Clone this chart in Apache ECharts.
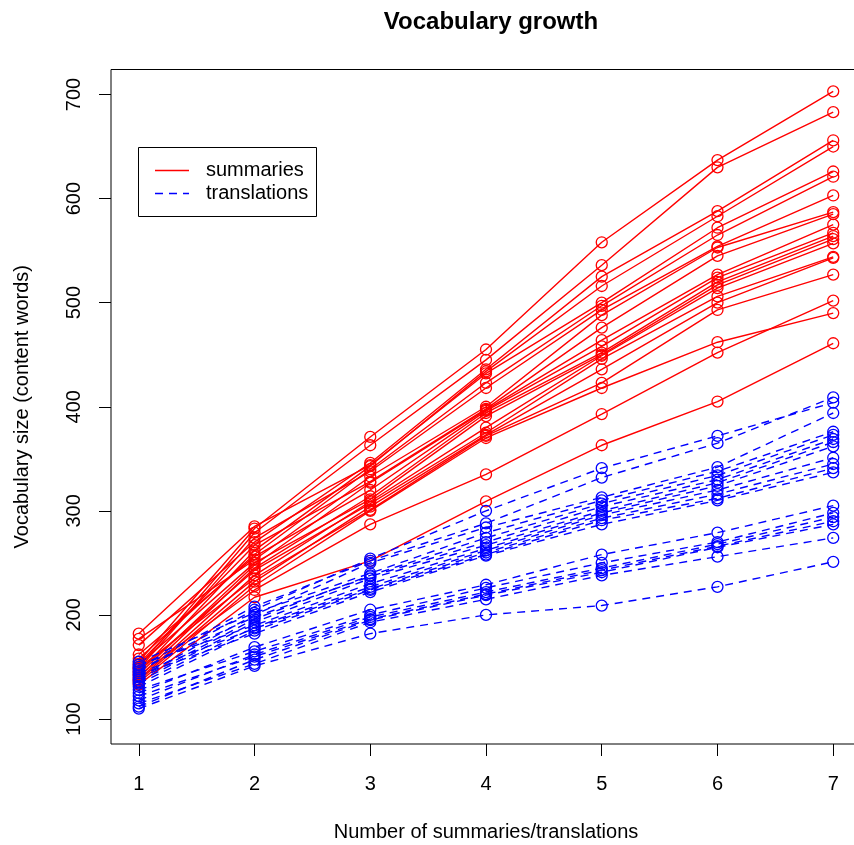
<!DOCTYPE html>
<html>
<head>
<meta charset="utf-8">
<script src="https://cdn.jsdelivr.net/npm/echarts@6/dist/echarts.min.js"></script>
<style>html,body{margin:0;padding:0;background:#fff}#chart{width:854px;height:845px}</style>
</head>
<body>
<div id="chart"></div>
<script>
// ---- data ----
const counts = [1, 2, 3, 4, 5, 6, 7];
const xTicks = [1, 2, 3, 4, 5, 6, 7];
const yTicks = [100, 200, 300, 400, 500, 600, 700];

// summaries: each row = one text, vocabulary size at 1..7 summaries
const summaries = [
  [155, 283, 371, 455, 558, 637, 703],
  [150, 279, 363, 445, 536, 630, 683],
  [171, 270, 346, 436, 525, 588, 656],
  [145, 262, 343, 434, 516, 583, 650],
  [182, 285, 344, 432, 500, 572, 626],
  [158, 258, 340, 423, 497, 565, 621],
  [148, 274, 338, 418, 493, 554, 603],
  [177, 253, 333, 400, 488, 553, 587],
  [153, 267, 328, 398, 476, 545, 585],
  [143, 248, 327, 397, 464, 527, 575],
  [162, 256, 320, 396, 458, 524, 567],
  [140, 245, 314, 394, 452, 520, 564],
  [152, 250, 311, 391, 450, 517, 561],
  [138, 238, 309, 380, 449, 514, 557],
  [146, 243, 307, 375, 446, 506, 544],
  [137, 232, 304, 373, 436, 500, 543],
  [149, 235, 301, 372, 423, 493, 527],
  [135, 228, 300, 370, 418, 462, 490],
  [142, 224, 287, 335, 393, 452, 502],
  [133, 217, 252, 309, 363, 405, 461]
];

// translations: each row = one text, vocabulary size at 1..7 translations
const translations = [
  [146, 205, 254, 300, 341, 372, 404],
  [150, 208, 252, 288, 332, 365, 409],
  [140, 200, 250, 284, 313, 342, 394],
  [155, 202, 240, 279, 310, 338, 376],
  [138, 196, 238, 274, 307, 334, 373],
  [148, 198, 237, 270, 304, 330, 369],
  [136, 193, 235, 267, 300, 327, 366],
  [152, 190, 230, 264, 298, 324, 362],
  [134, 188, 227, 262, 296, 320, 351],
  [144, 187, 225, 260, 293, 316, 345],
  [131, 185, 224, 258, 291, 312, 341],
  [142, 182, 222, 257, 287, 310, 337],
  [125, 169, 205, 229, 258, 279, 305],
  [128, 165, 200, 226, 250, 270, 298],
  [118, 162, 198, 222, 245, 268, 294],
  [122, 160, 196, 220, 243, 266, 290],
  [112, 157, 195, 219, 241, 265, 287],
  [115, 153, 193, 215, 238, 256, 274],
  [110, 151, 182, 200, 209, 227, 251]
];

const seriesNames = ['summaries', 'translations'];

// ---- chart ----
const FONT = '"Liberation Sans", Arial, Helvetica, sans-serif';
const RED = '#FF0000', BLUE = '#0000FF';
const DASH = [8, 6];

function makeSeries(rows, name, color, dashed) {
  return rows.map(function (vals) {
    return {
      type: 'line',
      name: name,
      data: counts.map(function (x, i) { return [x, vals[i]]; }),
      symbol: 'circle',
      symbolSize: 11,
      showSymbol: true,
      silent: true,
      itemStyle: { color: 'transparent', borderColor: color, borderWidth: 1.3 },
      lineStyle: { color: color, width: 1.4, type: dashed ? DASH : 'solid' },
      emphasis: { disabled: true }
    };
  });
}

const chart = echarts.init(document.getElementById('chart'), null, { renderer: 'canvas' });
const axisText = { color: '#000', fontSize: 20, fontFamily: FONT };

chart.setOption({
  animation: false,
  backgroundColor: '#fff',
  title: {
    text: 'Vocabulary growth',
    left: 486, top: 5, textAlign: 'center',
    textStyle: { fontFamily: FONT, fontSize: 24, fontWeight: 'bold', color: '#000' }
  },
  grid: {
    left: 111, width: 750, top: 69.5, height: 674.5,
    outerBoundsMode: 'none', containLabel: false,
    show: true, borderColor: '#000', borderWidth: 1, backgroundColor: 'transparent'
  },
  xAxis: {
    type: 'value', min: 0.76, max: 7.24,
    axisLine: { show: false },
    splitLine: { show: false },
    axisTick: { show: true, inside: false, length: 12, customValues: xTicks, lineStyle: { color: '#000', width: 1 } },
    axisLabel: Object.assign({ customValues: xTicks, margin: 30 }, axisText),
    name: 'Number of summaries/translations',
    nameLocation: 'middle', nameGap: 78,
    nameTextStyle: axisText
  },
  yAxis: {
    type: 'value', min: 76, max: 724,
    axisLine: { show: false },
    splitLine: { show: false },
    axisTick: { show: true, inside: false, length: 12, customValues: yTicks, lineStyle: { color: '#000', width: 1 } },
    axisLabel: Object.assign({ customValues: yTicks, margin: 27, rotate: 90 }, axisText),
    name: 'Vocabulary size (content words)',
    nameLocation: 'middle', nameGap: 79, nameRotate: 90,
    nameTextStyle: axisText
  },
  series: makeSeries(summaries, seriesNames[0], RED, false)
    .concat(makeSeries(translations, seriesNames[1], BLUE, true)),
  graphic: [
    { type: 'rect', shape: { x: 138.5, y: 147.5, width: 178, height: 69 },
      style: { fill: '#fff', stroke: '#000', lineWidth: 1 }, z: 100 },
    { type: 'line', shape: { x1: 155, y1: 170.5, x2: 189, y2: 170.5 },
      style: { stroke: RED, lineWidth: 1.4 }, z: 101 },
    { type: 'line', shape: { x1: 155, y1: 193.5, x2: 189, y2: 193.5 },
      style: { stroke: BLUE, lineWidth: 1.4, lineDash: DASH }, z: 101 },
    { type: 'text', x: 206, y: 170.5, z: 101,
      style: { text: seriesNames[0], fill: '#000', font: '20px ' + FONT, textVerticalAlign: 'middle', verticalAlign: 'middle' } },
    { type: 'text', x: 206, y: 193.5, z: 101,
      style: { text: seriesNames[1], fill: '#000', font: '20px ' + FONT, textVerticalAlign: 'middle', verticalAlign: 'middle' } }
  ]
});
</script>
</body>
</html>
